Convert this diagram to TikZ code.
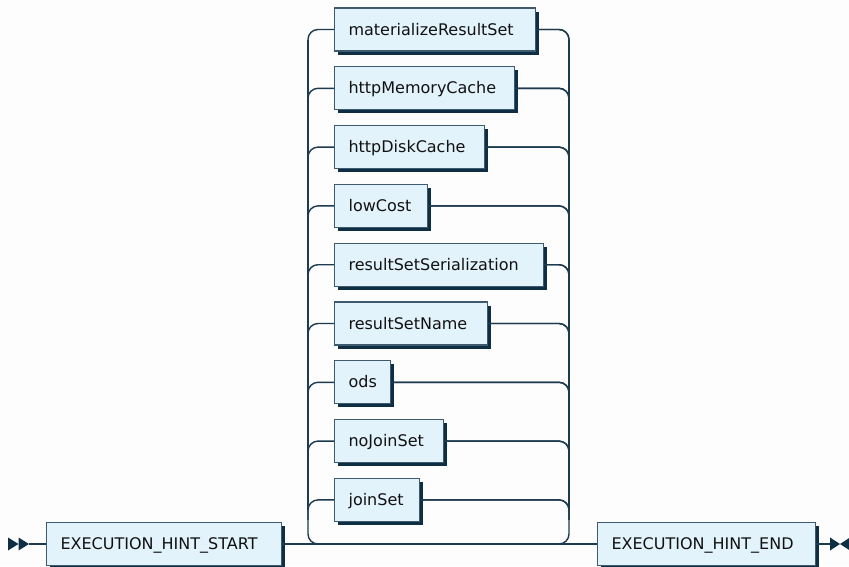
\documentclass[tikz,border=0pt]{standalone}
\usepackage{fontspec}
\setmainfont{DejaVu Sans}
\usetikzlibrary{shadows}
\definecolor{boxfill}{HTML}{E3F3FC}
\definecolor{boxdraw}{HTML}{3D5A6E}
\definecolor{shadowc}{HTML}{0E2E44}
\definecolor{linec}{HTML}{1E3A4E}
\definecolor{textc}{HTML}{111111}
\definecolor{bgc}{HTML}{FDFDFD}
\begin{document}
\begin{tikzpicture}[x=1pt,y=-1pt,
  term/.style={draw=boxdraw, fill=boxfill, line width=1.1pt, minimum height=43pt,
    inner xsep=14pt, inner ysep=0pt, align=left, anchor=west,
    text height=15pt, text depth=4pt, text=textc,
    font=\fontsize{16}{19}\selectfont,
    drop shadow={shadow xshift=3.5pt, shadow yshift=-3.5pt, fill=shadowc, opacity=1}},
  rail/.style={draw=linec, line width=1.4pt, rounded corners=10pt},
  tipmark/.style={fill=shadowc}]
\fill[bgc] (0,0) rectangle (849,566);
\useasboundingbox (0,0) rectangle (849,566);

% loop rails
\coordinate (Ltop) at (308,40);
\coordinate (Lbot) at (308,510);
\coordinate (Rbot) at (569,510);
\coordinate (mainL) at (335,544);
\coordinate (mainR) at (540,544);
\draw[rail] (Ltop) -- (Lbot);
\draw[rail] (569,40) -- (Rbot);

\foreach \name/\w [count=\i from 0] in {materializeResultSet/201, httpMemoryCache/180,
  httpDiskCache/150, lowCost/93, resultSetSerialization/209, resultSetName/153,
  ods/56, noJoinSet/109, joinSet/85}{
  \pgfmathsetmacro\yy{29.5+58.8*\i}
  \pgfmathsetmacro\tw{\w-28}
  \coordinate (lr\i) at (308,\yy+20);
  \coordinate (rr\i) at (569,\yy+20);
  \draw[rail] (lr\i) |- (334,\yy);
  \draw[rail] (334,\yy) -| (rr\i);
  \node[term, text width=\tw pt] (b\i) at (334,\yy) {\name};
  \draw[rail] (b\i.east) -| (rr\i);
}

% start and end
\node[term, text width=207pt] (start) at (46,544) {EXECUTION\_HINT\_START};
\node[term, text width=190pt] (end) at (597,544) {EXECUTION\_HINT\_END};

\draw[rail] (Lbot) |- (mainL);
\draw[rail] (mainR) -| (Rbot);
\draw[rail] (start.east) -- (end.west);

% start marker
\coordinate (sm) at (29,544);
\fill[tipmark] (8,537.5) -- (18.5,544) -- (8,550.5) -- cycle;
\fill[tipmark] (18.5,537.5) -- (29,544) -- (18.5,550.5) -- cycle;
\draw[rail] (sm) -- (start.west);
% end marker
\coordinate (em) at (830,544);
\draw[rail] (end.east) -- (em);
\fill[tipmark] (830,537.5) -- (840,544) -- (830,550.5) -- cycle;
\fill[tipmark] (850,537.5) -- (840,544) -- (850,550.5) -- cycle;
\end{tikzpicture}
\end{document}
